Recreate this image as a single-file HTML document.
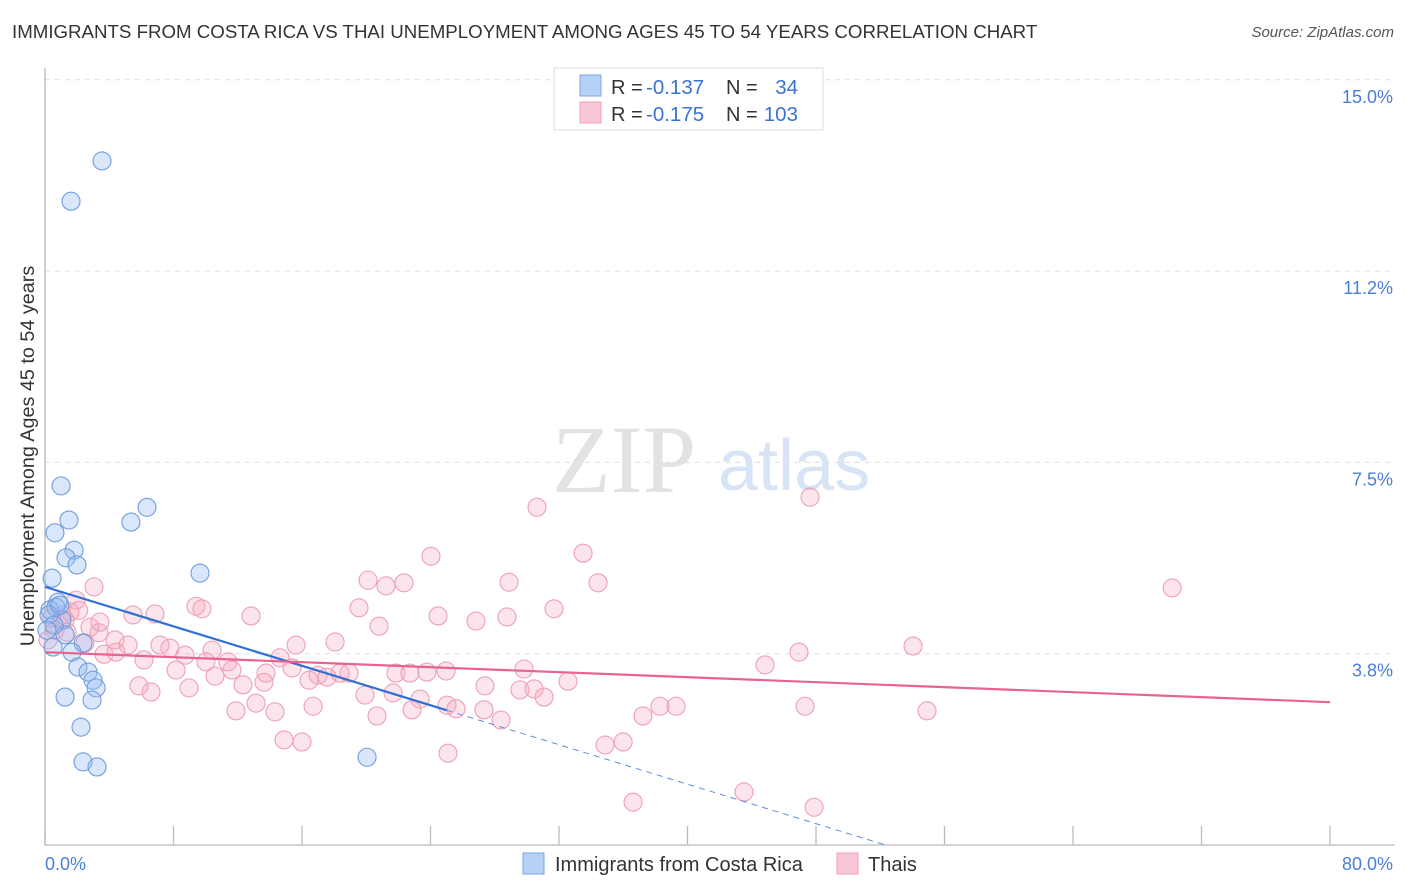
<!DOCTYPE html>
<html><head><meta charset="utf-8"><style>
body{margin:0;background:#fff;font-family:"Liberation Sans",sans-serif;}
#wrap{position:relative;width:1406px;height:892px;overflow:hidden;}
.t{position:absolute;white-space:nowrap;}
</style></head><body>
<div id="wrap">
<div class="t" style="left:12px;top:21px;font-size:18.7px;color:#333;">IMMIGRANTS FROM COSTA RICA VS THAI UNEMPLOYMENT AMONG AGES 45 TO 54 YEARS CORRELATION CHART</div>
<div class="t" style="right:12px;top:24px;font-size:15px;color:#555;font-style:italic;">Source: ZipAtlas.com</div>
<svg id="plot" width="1406" height="892" style="position:absolute;left:0;top:0"></svg>
</div>
<script>
const yTicks=[3.75,7.5,11.25,15];
const yTickLabels=["3.8%","7.5%","11.2%","15.0%"];
const xTickVals=[0,8,16,24,32,40,48,56,64,72,80];
const blueX=[3.55,1.62,1.0,1.49,0.62,6.35,5.35,1.81,1.31,1.99,0.44,9.65,0.81,0.31,0.68,1.06,1.25,2.37,0.50,1.68,2.05,2.68,2.99,3.18,1.25,2.93,2.24,2.37,3.24,20.05,0.25,0.56,0.12,0.93];
const blueY=[13.41,12.62,7.04,6.37,6.12,6.62,6.33,5.78,5.63,5.49,5.23,5.33,4.76,4.61,4.66,4.41,4.12,3.96,3.88,3.78,3.49,3.39,3.23,3.08,2.90,2.84,2.31,1.63,1.53,1.72,4.51,4.31,4.21,4.70];
const pinkX=[30.63,47.63,24.03,33.50,20.11,22.35,21.23,28.89,34.43,70.17,3.05,1.93,6.85,9.40,9.77,12.83,5.48,19.55,24.47,28.76,31.69,26.83,20.80,1.56,1.25,2.80,3.36,4.36,2.49,5.17,7.16,7.78,10.40,15.63,18.06,54.04,46.94,3.67,4.42,6.16,8.72,10.02,11.39,14.63,11.64,8.16,10.58,13.76,15.38,17.00,17.56,18.37,18.93,21.85,22.72,23.78,24.97,29.82,44.83,16.44,12.33,13.63,5.85,6.60,8.97,21.67,27.39,29.57,30.45,31.07,32.56,19.92,23.35,11.89,13.14,14.32,16.69,20.67,22.85,25.03,25.59,27.33,28.39,37.23,38.29,39.29,47.32,54.91,14.88,16.00,34.87,35.99,25.09,36.61,43.52,47.88,0.19,0.62,1.37,1.06,3.42,0.4,2.1];
const pinkY=[6.62,6.82,5.66,5.72,5.19,5.14,5.08,5.15,5.14,5.04,5.06,4.80,4.53,4.68,4.63,4.49,4.51,4.65,4.49,4.47,4.63,4.39,4.29,4.57,4.41,4.27,4.16,4.02,3.96,3.92,3.92,3.86,3.82,3.92,3.98,3.90,3.78,3.74,3.78,3.63,3.72,3.59,3.59,3.67,3.43,3.43,3.31,3.37,3.47,3.33,3.29,3.37,3.37,3.37,3.37,3.39,3.41,3.45,3.53,3.23,3.14,3.19,3.12,3.00,3.08,2.98,3.12,3.04,3.06,2.90,3.21,2.94,2.86,2.63,2.78,2.61,2.72,2.53,2.65,2.74,2.67,2.65,2.45,2.53,2.72,2.72,2.72,2.63,2.06,2.02,1.96,2.02,1.80,0.84,1.04,0.74,4.02,4.21,4.17,4.51,4.37,4.45,4.6];
const blueFit=[5.06,-0.0967]; // intercept, slope
const blueSolidEnd=25.0;
const pinkFit=[3.78,-0.01225];
const NS="http://www.w3.org/2000/svg";
const svg=document.getElementById('plot');
const X0=45,X1=1330,Y0=845,PXPER=191.3/3.75;
const sx=v=>X0+(v/80)*(X1-X0);
const sy=v=>Y0-v*PXPER;
function mk(tag,attrs,parent){const e=document.createElementNS(NS,tag);for(const k in attrs)e.setAttribute(k,attrs[k]);(parent||svg).appendChild(e);return e;}
yTicks.forEach((v,i)=>{
 const g=mk('line',{x1:X0,x2:1395,y1:sy(v),y2:sy(v),stroke:'#ddd','stroke-dasharray':'5,5'});
 
 
 const t=mk('text',{x:1393,y:sy(v)+23,'text-anchor':'end','font-size':18,fill:'#4a7fd6','font-family':'Liberation Sans, sans-serif'});
 t.textContent=yTickLabels[i];
 
 
});
const w1=mk('text',{x:552,y:492,'font-size':96,fill:'#e2e2e2','font-family':'Liberation Serif, serif'});w1.textContent='ZIP';


const w2=mk('text',{x:718,y:490,'font-size':72,fill:'#d6e4f5','font-family':'Liberation Sans, sans-serif'});w2.textContent='atlas';


const ya=mk('line',{x1:X0,x2:X0,y1:68,y2:Y0,stroke:'#bbb','stroke-width':1.3});


const xa=mk('line',{x1:X0,x2:1395,y1:Y0,y2:Y0,stroke:'#bbb','stroke-width':1.3});


xTickVals.forEach(v=>{const t=mk('line',{x1:sx(v),x2:sx(v),y1:826,y2:Y0,stroke:'#bbb','stroke-width':1.3});
 
 });
const xl0=mk('text',{x:45,y:870,'font-size':18,fill:'#4a7fd6','font-family':'Liberation Sans, sans-serif'});xl0.textContent='0.0%';


const xl1=mk('text',{x:1393,y:870,'text-anchor':'end','font-size':18,fill:'#4a7fd6','font-family':'Liberation Sans, sans-serif'});xl1.textContent='80.0%';


const yt=mk('text',{x:0,y:0,'font-size':19.8,fill:'#333','text-anchor':'middle','font-family':'Liberation Sans, sans-serif',transform:'translate(34,456) rotate(-90)'});yt.textContent='Unemployment Among Ages 45 to 54 years';


pinkX.forEach((x,i)=>{const c=mk('circle',{cx:sx(x),cy:sy(pinkY[i]),r:9,fill:'rgba(246,170,192,0.32)',stroke:'#ee9fb6','stroke-width':1.1});
 
 });
blueX.forEach((x,i)=>{const c=mk('circle',{cx:sx(x),cy:sy(blueY[i]),r:9,fill:'rgba(150,185,240,0.35)',stroke:'#6f9ddf','stroke-width':1.1});
 
 });
const bEnd0=-blueFit[0]/blueFit[1];
const bl=mk('line',{x1:sx(0),y1:sy(blueFit[0]),x2:sx(blueSolidEnd),y2:sy(blueFit[0]+blueFit[1]*blueSolidEnd),stroke:'#2f6fd6','stroke-width':2.2});


const bd=mk('line',{x1:sx(blueSolidEnd),y1:sy(blueFit[0]+blueFit[1]*blueSolidEnd),x2:sx(bEnd0),y2:sy(0),stroke:'#5b8fdc','stroke-width':1,'stroke-dasharray':'6,5'});


const pl=mk('line',{x1:sx(0),y1:sy(pinkFit[0]),x2:sx(80),y2:sy(pinkFit[0]+pinkFit[1]*80),stroke:'#e8638e','stroke-width':2.2});


const lg=mk('g',{});


mk('rect',{x:554,y:68,width:269,height:62,fill:'#fff',stroke:'#ddd'},lg);
mk('rect',{x:580,y:75,width:21,height:21,fill:'#b7d0f5',stroke:'#7aa4e4'},lg);
mk('rect',{x:580,y:102,width:21,height:21,fill:'#f9c6d5',stroke:'#eea0b8'},lg);
[[94,'-0.137','34'],[121,'-0.175','103']].forEach(r=>{
 const a=mk('text',{x:611,y:r[0],'font-size':20,fill:'#333','font-family':'Liberation Sans, sans-serif'},lg);a.textContent='R = ';
 const b=mk('text',{x:646,y:r[0],'font-size':20.5,fill:'#3a73d2','font-family':'Liberation Sans, sans-serif'},lg);b.textContent=r[1];
 const c=mk('text',{x:726,y:r[0],'font-size':20,fill:'#333','font-family':'Liberation Sans, sans-serif'},lg);c.textContent='N =';
 const d=mk('text',{x:798,y:r[0],'font-size':20.5,fill:'#3a73d2','text-anchor':'end','font-family':'Liberation Sans, sans-serif'},lg);d.textContent=r[2];
});
const b1=mk('rect',{x:523,y:853,width:21,height:21,fill:'#b7d0f5',stroke:'#7aa4e4'});


const b1t=mk('text',{x:555,y:871,'font-size':20,fill:'#333','font-family':'Liberation Sans, sans-serif'});b1t.textContent='Immigrants from Costa Rica';


const b2=mk('rect',{x:837,y:853,width:21,height:21,fill:'#f9c6d5',stroke:'#eea0b8'});


const b2t=mk('text',{x:868,y:871,'font-size':20,fill:'#333','font-family':'Liberation Sans, sans-serif'});b2t.textContent='Thais';


</script>
</body></html>
